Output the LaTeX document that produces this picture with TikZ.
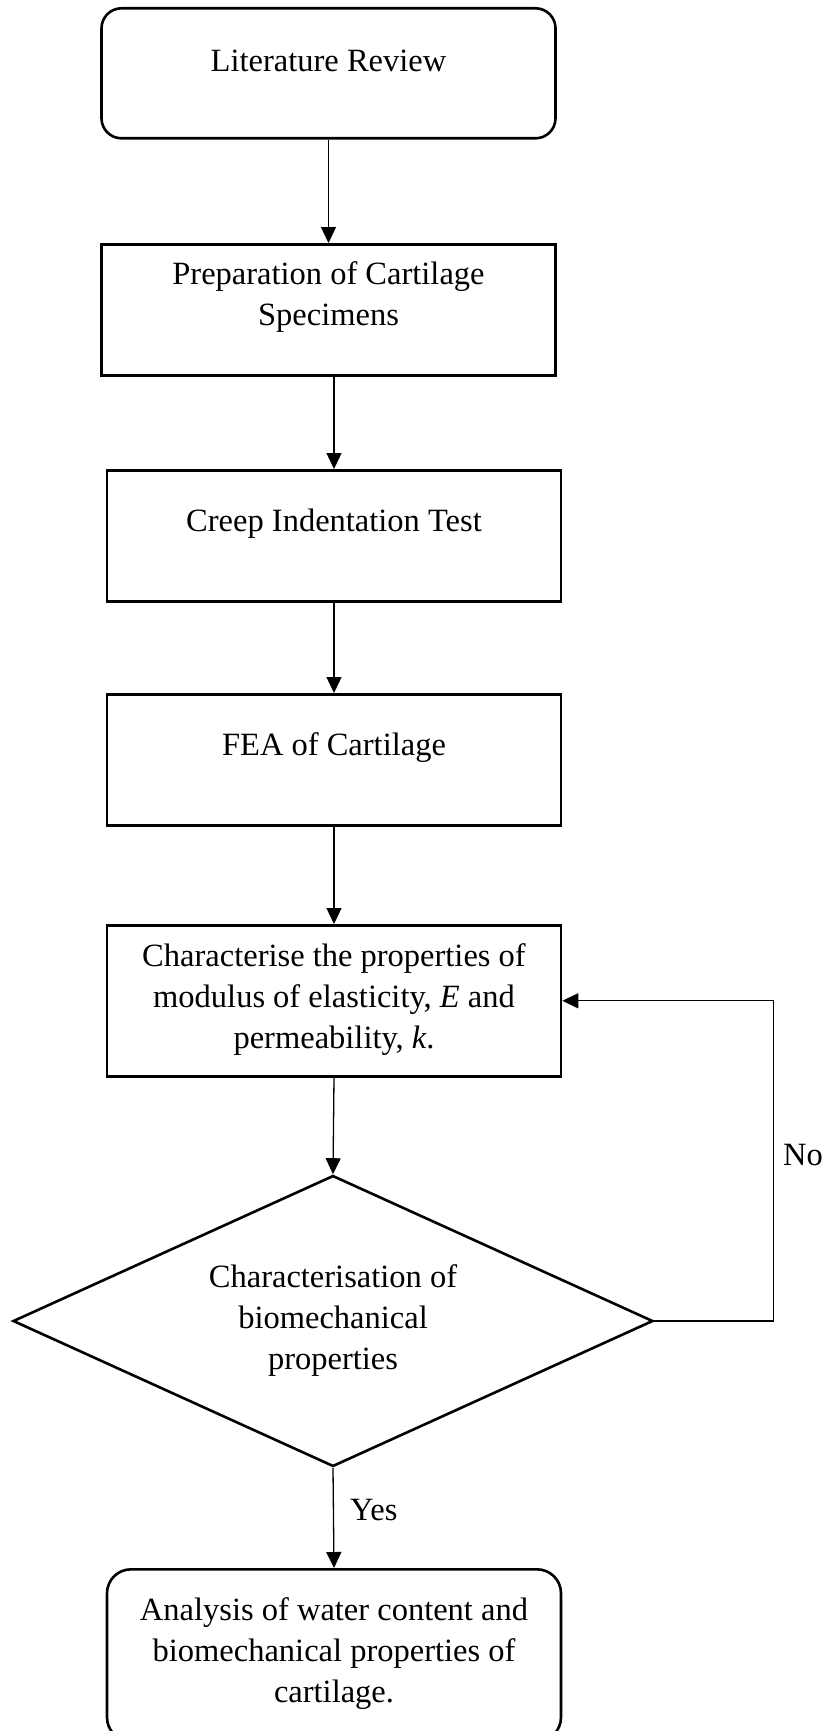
\documentclass[tikz,border=0pt]{standalone}
\usepackage{fontspec}
\setmainfont{Liberation Serif}
\usetikzlibrary{shapes.geometric,arrows.meta,positioning}

\begin{document}
\begin{tikzpicture}[x=1pt,y=-1pt,
		font=\fontsize{32.5}{41}\selectfont,
		stepbox/.style={draw, line width=2.6pt, anchor=north, inner xsep=7pt, inner ysep=0pt, text width=440pt, align=flush center},
		roundbox/.style={stepbox, rounded corners=20pt},
		decide/.style={draw, diamond, line width=2.6pt, aspect=2.2, inner sep=0pt, minimum width=640pt, minimum height=291pt, align=flush center},
		arr/.style={line width=1.3pt, -{Triangle[width=15pt,length=16pt]}}]

		\useasboundingbox (0,0) rectangle (827,1731);

		% steps
		\node[roundbox, text height=63pt, text depth=67pt] (lit) at (328.5,7) {Literature Review};
		\node[stepbox, text height=40pt, text depth=91pt] (prep) at (328.5,243) {Preparation of Cartilage\\ Specimens};
		\node[stepbox, text height=61pt, text depth=70pt] (creep) at (334,469) {Creep Indentation Test};
		\node[stepbox, text height=61pt, text depth=70pt] (fea) at (334,693) {FEA of Cartilage};
		\node[stepbox, text height=41pt, text depth=110pt] (char) at (334,924) {Characterise the properties of\\ modulus of elasticity, \textit{E} and\\ permeability, \textit{k}.};
		\node[decide] (dec) at (333,1321) {Characterisation of\\ biomechanical\\ properties};
		\node[roundbox, rounded corners=24pt, text height=51pt, text depth=121pt] (final) at (334,1568) {Analysis of water content and\\ biomechanical properties of\\ cartilage.};

		% arrows
		\draw[arr] (lit) -- (prep);
		\draw[arr] (prep.south -| creep.north) -- (creep);
		\draw[arr] (creep) -- (fea);
		\draw[arr] (fea) -- (char);
		\draw[arr] (char.south) -- (dec.north);
		\draw[arr] (dec.south) -- (final.north);
		\draw[arr] (dec.east) -- ++(119,0) |- (char.east);

		\node[anchor=west, inner sep=0pt] (yes) at (350,1510) {Yes};
		\node[anchor=west, inner sep=0pt] (no) at (783,1155) {No};
\end{tikzpicture}
\end{document}
